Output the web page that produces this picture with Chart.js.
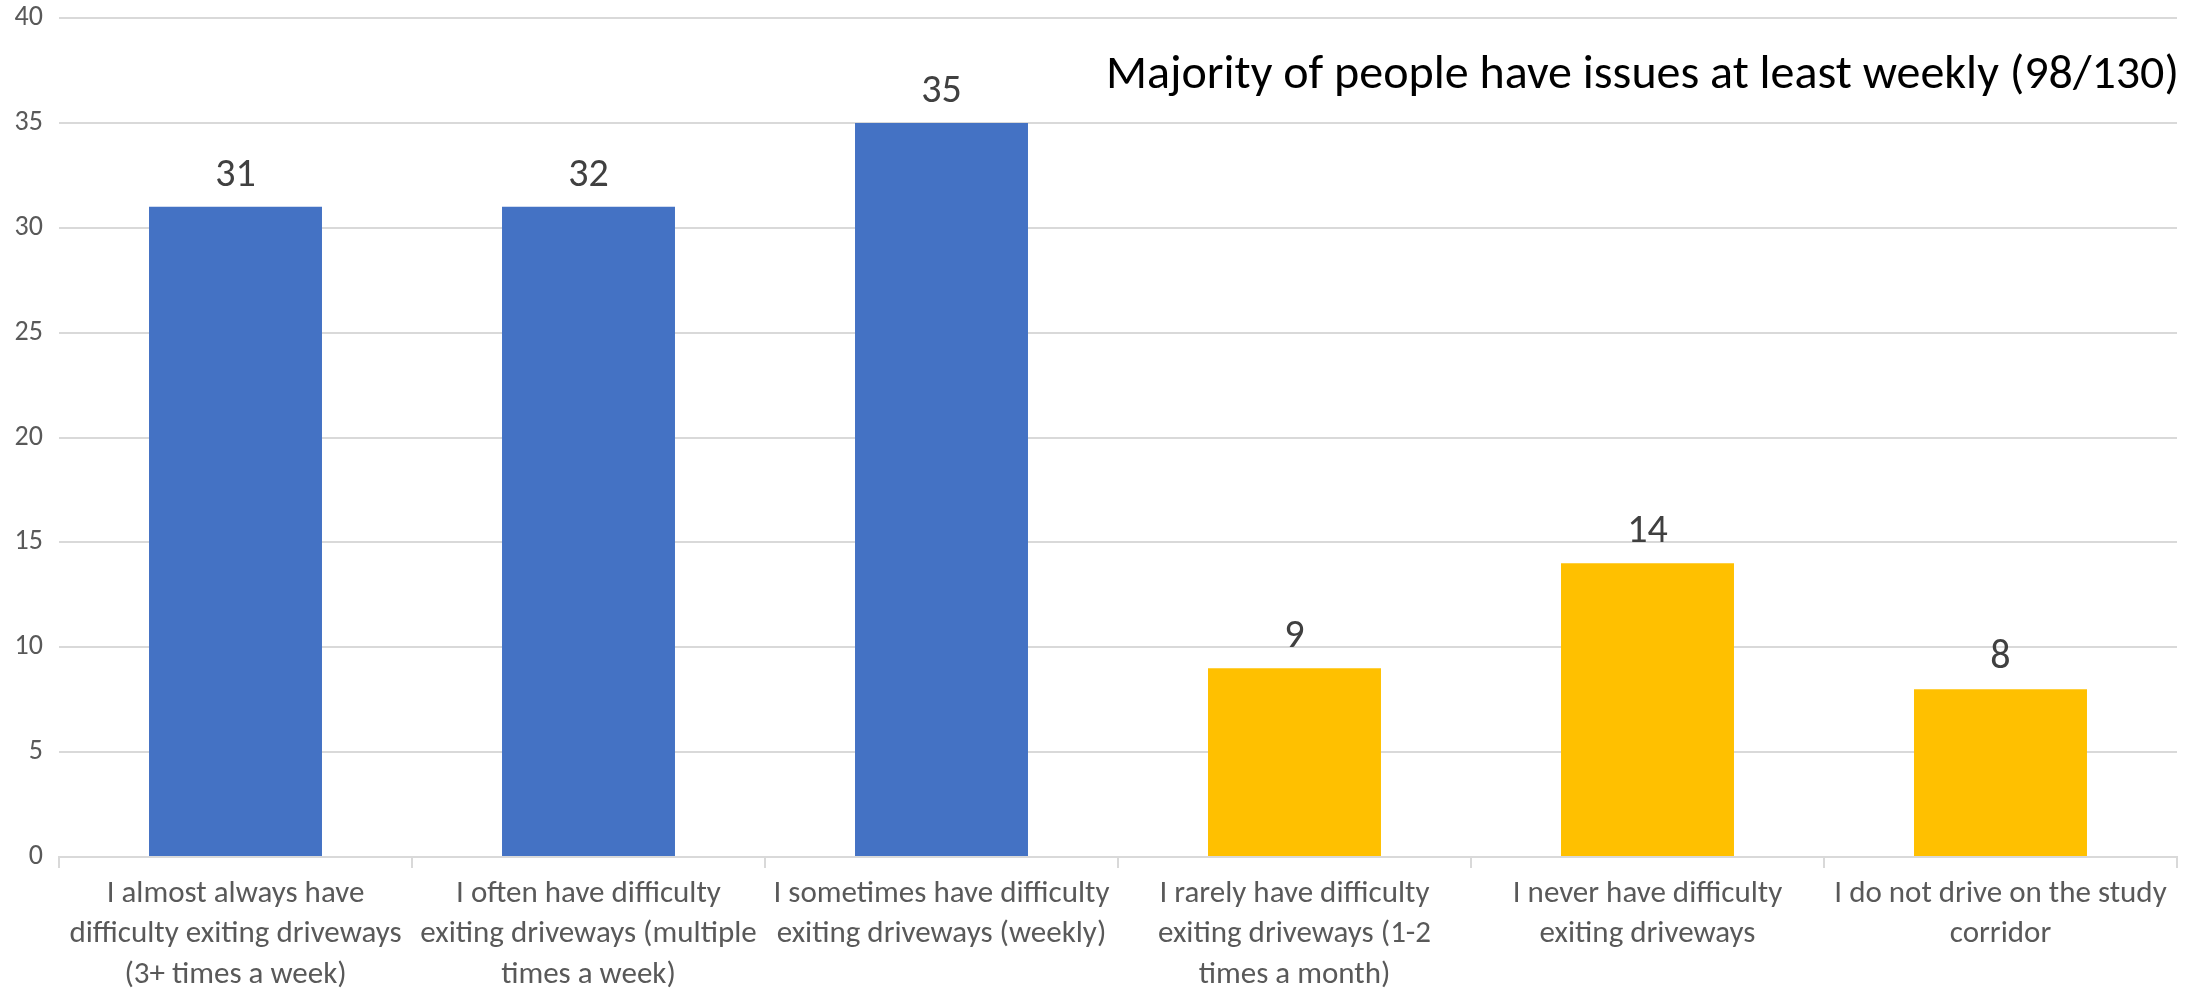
<!DOCTYPE html>
<html>
<head>
<meta charset="utf-8">
<script src="https://cdn.jsdelivr.net/npm/chart.js@4.4.1/dist/chart.umd.min.js"></script>
<style>
  html, body { margin: 0; padding: 0; background: #fff; }
  #wrap { width: 2203px; height: 994px; position: relative; }
</style>
</head>
<body>
<div id="wrap"><canvas id="chart"></canvas></div>
<script>
const categories = [
    ['I almost always have', 'difficulty exiting driveways', '(3+ times a week)'],
    ['I often have difficulty', 'exiting driveways (multiple', 'times a week)'],
    ['I sometimes have difficulty', 'exiting driveways (weekly)'],
    ['I rarely have difficulty', 'exiting driveways (1-2', 'times a month)'],
    ['I never have difficulty', 'exiting driveways'],
    ['I do not drive on the study', 'corridor']
];
const barValues = [31, 31, 35, 9, 14, 8];
const labelValues = ['31', '32', '35', '9', '14', '8'];
const barColors = ['#4472C4', '#4472C4', '#4472C4', '#FFC000', '#FFC000', '#FFC000'];
const yTicks = [0, 5, 10, 15, 20, 25, 30, 35, 40];
const titleText = 'Majority of people have issues at least weekly (98/130)';

const FONT = 'Carlito, Calibri, Lato, sans-serif';

// numbers above the bars
const valueLabels = {
    id: 'valueLabels',
    afterDatasetsDraw(chart) {
        const ctx = chart.ctx;
        const meta = chart.getDatasetMeta(0);
        ctx.save();
        ctx.font = '40px ' + FONT;
        ctx.fillStyle = '#404040';
        ctx.textAlign = 'center';
        ctx.textBaseline = 'alphabetic';
        meta.data.forEach((bar, i) => {
            ctx.fillText(labelValues[i], bar.x, bar.y - 21);
        });
        ctx.restore();
    }
};

// note in the top right corner
const cornerTitle = {
    id: 'cornerTitle',
    afterDraw(chart) {
        const ctx = chart.ctx;
        const area = chart.chartArea;
        ctx.save();
        ctx.font = '48px ' + FONT;
        ctx.fillStyle = '#000000';
        ctx.textAlign = 'right';
        ctx.textBaseline = 'alphabetic';
        ctx.fillText(titleText, area.right + 2, 88);
        ctx.restore();
    }
};

new Chart(document.getElementById('chart'), {
    type: 'bar',
    data: {
        labels: categories,
        datasets: [{
            data: barValues,
            backgroundColor: barColors,
            barPercentage: 0.49,
            categoryPercentage: 1.0
        }]
    },
    options: {
        responsive: true,
        maintainAspectRatio: false,
        animation: false,
        layout: { padding: { top: 18, right: 26, left: 0, bottom: 0 } },
        plugins: {
            legend: { display: false },
            tooltip: { enabled: false }
        },
        scales: {
            x: {
                grid: {
                    drawOnChartArea: false,
                    drawTicks: true,
                    tickLength: 11,
                    color: '#d9d9d9',
                    lineWidth: 2
                },
                border: { display: true, color: '#d9d9d9', width: 2 },
                ticks: {
                    autoSkip: false,
                    maxRotation: 0,
                    minRotation: 0,
                    color: '#595959',
                    padding: 6,
                    font: { family: FONT, size: 31, lineHeight: 1.3 }
                },
                afterFit(scale) { scale.height = 137; }
            },
            y: {
                min: 0,
                max: 40,
                afterBuildTicks(scale) { scale.ticks = yTicks.map(v => ({ value: v })); },
                grid: { color: '#d9d9d9', lineWidth: 2, drawTicks: false },
                border: { display: false },
                ticks: {
                    color: '#595959',
                    padding: 16,
                    font: { family: FONT, size: 28 }
                },
                afterFit(scale) {
                    scale.width = 59;
                    scale.paddingTop = 0;
                    scale.paddingBottom = 0;
                }
            }
        }
    },
    plugins: [valueLabels, cornerTitle]
});
</script>
</body>
</html>
